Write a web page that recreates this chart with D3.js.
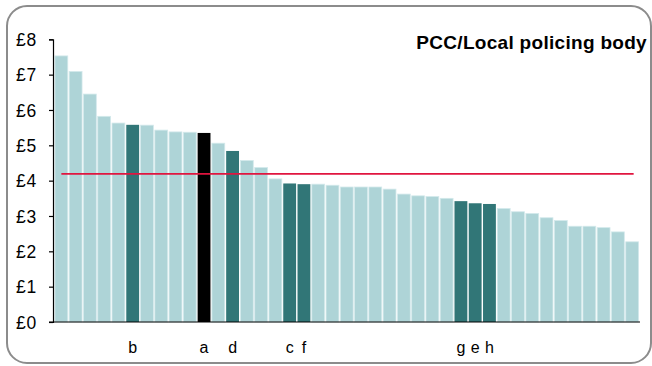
<!DOCTYPE html>
<html>
<head>
<meta charset="utf-8">
<script src="https://cdn.jsdelivr.net/npm/d3@7/dist/d3.min.js"></script>
<style>
  html, body { margin: 0; padding: 0; background: #fff; }
  svg { display: block; font-family: "Liberation Sans", Arial, sans-serif; }
</style>
</head>
<body>
<svg id="chart" width="652" height="366"></svg>
<script>
// Cost per head for each force area, sorted high to low
const values = [7.53, 7.09, 6.45, 5.82, 5.63, 5.58, 5.57, 5.43, 5.38, 5.37,
                5.35, 5.06, 4.84, 4.57, 4.37, 4.05, 3.92, 3.90, 3.90, 3.87,
                3.82, 3.82, 3.82, 3.76, 3.62, 3.57, 3.55, 3.50, 3.42, 3.36,
                3.34, 3.21, 3.12, 3.07, 2.95, 2.87, 2.71, 2.71, 2.67, 2.55,
                2.27];
// Letter labels under selected bars (empty = unlabelled)
const labels = ["", "", "", "", "", "b", "", "", "", "",
                "a", "", "d", "", "", "", "c", "f", "", "",
                "", "", "", "", "", "", "", "", "g", "e",
                "h", "", "", "", "", "", "", "", "", "",
                ""];
// Bar group: 0 = other, 1 = comparator, 2 = selected force
const groups = [0, 0, 0, 0, 0, 1, 0, 0, 0, 0,
                2, 0, 1, 0, 0, 0, 1, 1, 0, 0,
                0, 0, 0, 0, 0, 0, 0, 0, 1, 1,
                1, 0, 0, 0, 0, 0, 0, 0, 0, 0,
                0];
const average = 4.19;
const yTicks = [0, 1, 2, 3, 4, 5, 6, 7, 8];
const title = "PCC/Local policing body";

const svg = d3.select("#chart");
const fills = ["#aed4d7", "#317677", "#000000"];

// outer rounded frame
svg.append("rect")
  .attr("x", 7).attr("y", 6)
  .attr("width", 644).attr("height", 357)
  .attr("rx", 20).attr("ry", 20)
  .attr("fill", "none")
  .attr("stroke", "#8c8c8c")
  .attr("stroke-width", 2);

const idx = d3.range(values.length);
const x = d3.scaleBand().domain(idx).range([53.5, 640]).paddingInner(0.1).paddingOuter(0.1);
const y = d3.scaleLinear().domain([0, 8]).range([322, 39.3]);

// bars
svg.append("g").selectAll("rect")
  .data(idx)
  .join("rect")
  .attr("x", i => x(i))
  .attr("y", i => y(values[i]))
  .attr("width", x.bandwidth())
  .attr("height", i => y(0) - y(values[i]))
  .attr("fill", i => fills[groups[i]])
  .attr("stroke", i => groups[i] === 0 ? "#d3e9eb" : "none")
  .attr("stroke-width", 0.8);

// y axis
const yAxis = svg.append("g")
  .attr("transform", "translate(53,0)")
  .call(d3.axisLeft(y).tickValues(yTicks).tickFormat(d => "£" + d).tickSize(4).tickPadding(12));
yAxis.select(".domain").attr("stroke", "#000").attr("stroke-width", 1.2);
yAxis.selectAll(".tick line").attr("stroke", "#000").attr("stroke-width", 1.2);
yAxis.selectAll(".tick text")
  .attr("fill", "#000")
  .attr("font-size", 17.5)
  .attr("letter-spacing", 0.8)
  .attr("font-family", "'Liberation Sans', Arial, sans-serif")
  .attr("dy", "0.36em");

// baseline
svg.append("line")
  .attr("x1", 49).attr("x2", 640)
  .attr("y1", y(0)).attr("y2", y(0))
  .attr("stroke", "#000").attr("stroke-width", 1.2);

// average line
svg.append("line")
  .attr("x1", x(0) + x.bandwidth() / 2)
  .attr("x2", x(values.length - 1) + x.bandwidth() / 2 + 1.5)
  .attr("y1", y(average)).attr("y2", y(average))
  .attr("stroke", "#e0153f").attr("stroke-width", 1.8);

// category letters
svg.append("g").selectAll("text")
  .data(idx.filter(i => labels[i] !== ""))
  .join("text")
  .attr("x", i => x(i) + x.bandwidth() / 2)
  .attr("y", 353)
  .attr("text-anchor", "middle")
  .attr("font-size", 16)
  .attr("fill", "#000")
  .text(i => labels[i]);

// title
svg.append("text")
  .attr("x", 647).attr("y", 48.5)
  .attr("text-anchor", "end")
  .attr("font-size", 19)
  .attr("font-weight", "bold")
  .attr("letter-spacing", 0.3)
  .attr("fill", "#000")
  .text(title);
</script>
</body>
</html>
